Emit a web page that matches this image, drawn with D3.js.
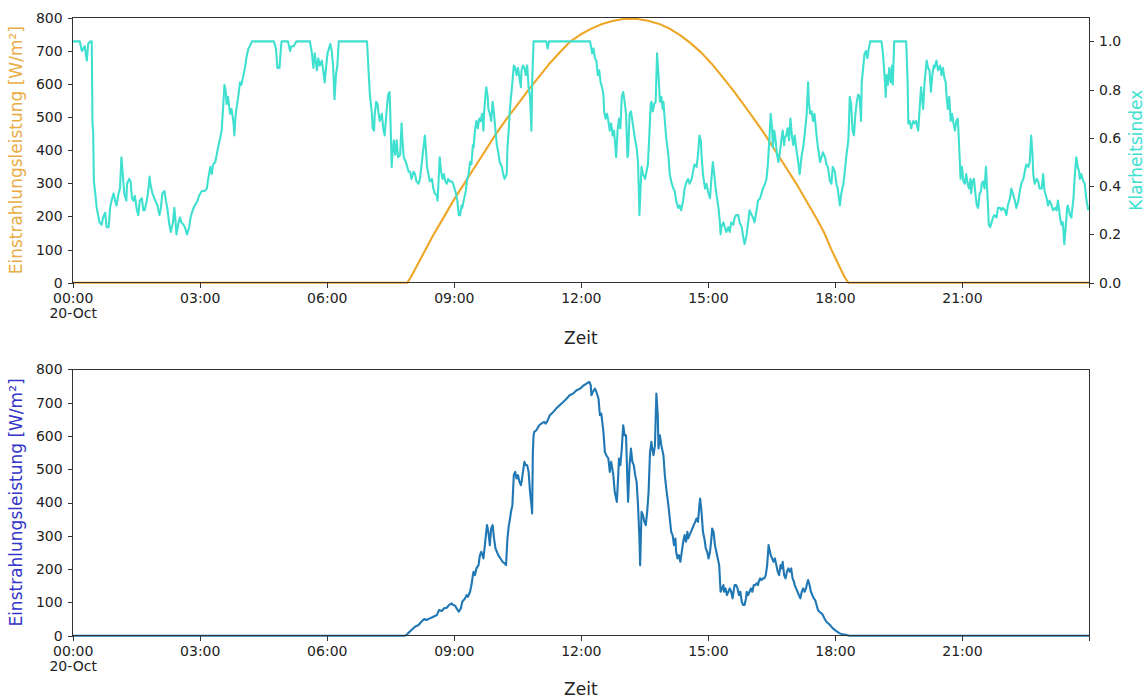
<!DOCTYPE html>
<html>
<head>
<meta charset="utf-8">
<style>
body { margin: 0; background: #fff; }
svg { font-family: "DejaVu Sans", sans-serif; }
.axis path, .axis line { stroke: #333; shape-rendering: crispEdges; }
.axis text { font-family: "DejaVu Sans", sans-serif; font-size: 14px; fill: #222; }
.label { font-family: "DejaVu Sans", sans-serif; font-size: 17px; }
</style>
</head>
<body>
<div id="chart"></div>
<script src="https://d3js.org/d3.v7.min.js"></script>
<script>

// x ticks in hours, date label under the first one
var dayLabel = "20-Oct";
var xTickHours = [0, 3, 6, 9, 12, 15, 18, 21, 24];
var powerTicks = [0, 100, 200, 300, 400, 500, 600, 700, 800];
var clearTicks = [0, 0.2, 0.4, 0.6, 0.8, 1.0];

// [minute of day, clearness index]
var clearIndex = [
[0,1.00],[10,1.00],[13,0.96],[17,0.98],[20,0.92],[22,0.99],[25,1.00],[27,1.00],[28,0.66],[29,0.63],[30,0.42],[32,0.37],[34,0.31],[38,0.25],[41,0.24],[43,0.27],[46,0.29],[48,0.23],[51,0.23],[53,0.31],[55,0.34],[58,0.37],[60,0.34],[62,0.32],[65,0.37],[67,0.39],[69,0.52],[71,0.45],[73,0.37],[76,0.34],[77,0.41],[80,0.43],[82,0.42],[84,0.35],[86,0.34],[88,0.36],[91,0.30],[93,0.28],[95,0.34],[98,0.35],[100,0.30],[102,0.30],[105,0.34],[107,0.38],[109,0.44],[110,0.41],[113,0.37],[117,0.34],[120,0.32],[123,0.28],[125,0.31],[127,0.37],[130,0.38],[132,0.34],[134,0.31],[137,0.24],[139,0.21],[142,0.25],[144,0.31],[145,0.28],[147,0.20],[150,0.25],[152,0.27],[154,0.25],[157,0.24],[159,0.23],[162,0.20],[165,0.23],[167,0.27],[170,0.30],[173,0.32],[177,0.34],[179,0.36],[183,0.38],[187,0.38],[190,0.39],[192,0.43],[195,0.48],[197,0.45],[199,0.49],[202,0.50],[204,0.53],[206,0.56],[209,0.60],[211,0.63],[213,0.72],[215,0.82],[217,0.79],[218,0.74],[220,0.77],[223,0.70],[225,0.72],[228,0.66],[229,0.61],[231,0.70],[232,0.72],[235,0.78],[237,0.83],[239,0.82],[242,0.86],[244,0.89],[246,0.93],[249,0.97],[251,0.98],[254,1.00],[285,1.00],[288,0.97],[290,0.89],[293,0.89],[295,0.97],[296,1.00],[305,1.00],[308,0.96],[310,0.98],[313,0.98],[317,1.00],[336,1.00],[339,0.95],[341,0.89],[343,0.95],[346,0.88],[348,0.93],[350,0.90],[353,0.92],[355,0.88],[357,0.83],
[359,0.89],[361,0.95],[364,0.98],[365,0.99],[367,0.96],[369,0.90],[371,0.76],[373,0.86],[375,0.90],[377,1.00],[417,1.00],[419,0.89],[421,0.78],[424,0.70],[425,0.64],[427,0.63],[428,0.70],[430,0.75],[432,0.74],[433,0.71],[435,0.67],[438,0.70],[440,0.64],[442,0.61],[445,0.72],[447,0.78],[449,0.79],[450,0.70],[452,0.48],[453,0.53],[455,0.59],[457,0.53],[459,0.59],[461,0.52],[464,0.53],[466,0.66],[467,0.60],[469,0.52],[472,0.50],[474,0.48],[476,0.46],[478,0.46],[480,0.43],[483,0.46],[485,0.45],[487,0.42],[490,0.41],[492,0.43],[494,0.48],[497,0.56],[499,0.61],[501,0.53],[502,0.48],[504,0.45],[506,0.42],[509,0.43],[511,0.39],[513,0.37],[516,0.36],[517,0.34],[519,0.46],[520,0.52],[522,0.46],[524,0.43],[526,0.45],[528,0.42],[530,0.41],[532,0.43],[534,0.42],[537,0.42],[539,0.41],[541,0.39],[543,0.37],[545,0.34],[547,0.28],[549,0.28],[551,0.32],[552,0.31],[554,0.34],[557,0.38],[559,0.43],[561,0.45],[563,0.50],[565,0.49],[567,0.57],[568,0.56],[570,0.63],[572,0.67],[574,0.64],[576,0.68],[578,0.67],[580,0.70],[582,0.63],[583,0.71],[585,0.78],[586,0.81],[588,0.77],[589,0.72],[591,0.70],[593,0.67],[595,0.75],[597,0.70],[599,0.63],[601,0.57],[603,0.54],[605,0.50],[608,0.48],[610,0.45],[612,0.43],[615,0.45],[616,0.56],[618,0.64],[619,0.70],[621,0.77],[623,0.83],[625,0.90],[627,0.89],[629,0.86],[631,0.89],[633,0.85],[635,0.81],[636,0.88],[638,0.90],[640,0.89],[642,0.86],[644,0.90],[646,0.81],[648,0.77],[650,0.63],[651,0.83],[653,1.00],[671,1.00],[673,0.97],[675,1.00],
[733,1.00],[735,0.97],[736,0.95],[738,0.97],[740,0.93],[742,0.92],[744,0.86],[746,0.88],[748,0.83],[750,0.81],[752,0.78],[753,0.71],[755,0.68],[757,0.70],[759,0.67],[761,0.63],[763,0.66],[765,0.61],[767,0.63],[769,0.56],[770,0.52],[772,0.63],[774,0.68],[776,0.64],[778,0.77],[780,0.79],[782,0.75],[784,0.70],[786,0.52],[787,0.53],[789,0.70],[791,0.71],[793,0.67],[795,0.63],[797,0.59],[799,0.56],[801,0.50],[802,0.39],[803,0.28],[805,0.42],[806,0.48],[808,0.45],[811,0.43],[813,0.46],[815,0.49],[817,0.61],[819,0.74],[820,0.75],[822,0.71],[824,0.74],[826,0.75],[828,0.95],[830,0.86],[832,0.75],[834,0.77],[836,0.72],[837,0.75],[839,0.67],[841,0.60],[844,0.53],[846,0.45],[848,0.42],[851,0.39],[853,0.38],[855,0.34],[858,0.31],[860,0.32],[862,0.30],[865,0.34],[867,0.39],[870,0.42],[872,0.43],[874,0.41],[877,0.43],[879,0.46],[881,0.49],[884,0.48],[886,0.53],[888,0.61],[890,0.59],[891,0.53],[893,0.45],[896,0.39],[898,0.41],[900,0.38],[903,0.35],[905,0.43],[907,0.50],[909,0.45],[911,0.39],[913,0.35],[915,0.31],[917,0.25],[918,0.20],[919,0.23],[922,0.25],[924,0.23],[926,0.21],[929,0.23],[931,0.21],[933,0.25],[936,0.24],[938,0.27],[940,0.28],[943,0.28],[945,0.25],[948,0.23],[950,0.19],[952,0.16],[955,0.20],[957,0.25],[959,0.30],[962,0.28],[964,0.27],[966,0.25],[969,0.30],[971,0.34],[974,0.35],[976,0.37],[978,0.39],[981,0.41],[983,0.43],[985,0.49],[987,0.59],[989,0.70],[991,0.64],[992,0.56],[994,0.63],[996,0.59],[998,0.53],[1000,0.50],[1002,0.54],[1004,0.59],[1006,0.63],[1008,0.57],[1009,0.60],[1011,0.61],[1013,0.64],[1015,0.59],[1017,0.68],[1019,0.61],[1021,0.57],[1023,0.61],[1025,0.56],[1028,0.50],[1030,0.45],[1033,0.53],[1035,0.56],[1037,0.61],[1040,0.70],[1042,0.83],[1043,0.75],[1045,0.70],[1047,0.71],[1049,0.67],[1051,0.70],[1054,0.61],[1056,0.56],[1059,0.50],[1061,0.52],[1063,0.54],
[1066,0.52],[1068,0.49],[1070,0.48],[1073,0.42],[1075,0.41],[1077,0.48],[1080,0.46],[1082,0.41],[1084,0.39],[1087,0.32],[1089,0.37],[1092,0.41],[1094,0.46],[1096,0.52],[1099,0.59],[1100,0.67],[1101,0.77],[1103,0.74],[1105,0.63],[1107,0.61],[1109,0.70],[1111,0.75],[1113,0.78],[1115,0.77],[1117,0.67],[1118,0.83],[1120,0.89],[1122,0.95],[1124,0.96],[1126,0.93],[1128,0.97],[1130,1.00],[1146,1.00],[1148,0.95],[1151,0.83],[1152,0.77],[1153,0.86],[1155,0.82],[1157,0.89],[1159,0.83],[1161,0.90],[1162,0.82],[1164,1.00],[1181,1.00],[1183,0.83],[1184,0.66],[1186,0.67],[1188,0.64],[1191,0.67],[1193,0.66],[1195,0.67],[1198,0.63],[1200,0.72],[1202,0.81],[1203,0.78],[1205,0.72],[1207,0.83],[1210,0.92],[1212,0.89],[1214,0.88],[1216,0.79],[1218,0.86],[1220,0.90],[1221,0.89],[1224,0.92],[1226,0.88],[1229,0.90],[1231,0.86],[1233,0.89],[1235,0.85],[1237,0.83],[1238,0.78],[1240,0.72],[1242,0.77],[1244,0.67],[1246,0.70],[1248,0.66],[1250,0.63],[1252,0.67],[1254,0.68],[1255,0.63],[1257,0.50],[1258,0.43],[1260,0.48],[1262,0.42],[1264,0.41],[1266,0.45],[1268,0.41],[1270,0.39],[1272,0.43],[1273,0.37],[1275,0.42],[1277,0.43],[1279,0.37],[1281,0.32],[1283,0.31],[1285,0.37],[1287,0.38],[1288,0.41],[1290,0.42],[1292,0.39],[1294,0.48],[1296,0.37],[1297,0.31],[1298,0.24],[1300,0.23],[1302,0.25],[1304,0.27],[1306,0.28],[1309,0.27],[1311,0.31],[1314,0.31],[1316,0.30],[1318,0.31],[1321,0.30],[1323,0.28],[1325,0.32],[1328,0.35],[1330,0.39],[1332,0.37],[1335,0.34],[1337,0.31],[1340,0.34],[1342,0.38],[1344,0.41],[1347,0.43],[1349,0.46],[1351,0.49],[1354,0.48],[1356,0.50],[1358,0.61],[1360,0.53],[1361,0.45],[1363,0.41],[1366,0.43],[1368,0.42],[1370,0.39],[1373,0.39],[1375,0.45],[1377,0.38],[1380,0.35],[1382,0.32],[1384,0.34],[1387,0.32],[1389,0.30],[1392,0.31],[1394,0.30],[1396,0.34],[1399,0.27],[1401,0.24],[1403,0.25],[1405,0.16],[1407,0.23],[1409,0.31],[1410,0.32],[1413,0.28],[1415,0.27],[1418,0.35],[1420,0.45],[1422,0.52],[1424,0.48],[1426,0.46],[1427,0.43],[1429,0.45],[1432,0.42],[1434,0.41],[1436,0.35],[1439,0.30]
];

// [minute of day, clear-sky irradiance W/m2]
var clearSky = [
[0,0],[474,0],[480,20],[490,60],[500,100],[510,140],[525,195],[540,250],[555,300],[570,350],[585,400],[600,450],[615,495],[630,537],[645,580],[660,620],[675,660],[690,695],[705,728],[720,750],[735,767],[750,781],[765,790],[780,796],[790,797],[800,796],[815,791],[830,782],[845,768],[860,748],[875,724],[890,696],[905,662],[920,623],[935,583],[950,540],[965,495],[980,450],[995,400],[1010,350],[1025,300],[1040,245],[1055,190],[1065,150],[1075,100],[1085,55],[1093,20],[1099,0],[1440,0]
];

// [minute of day, measured irradiance W/m2]
var measured = [
[0,0],[470,0],[473,2],[475,7],[480,17],[485,27],[490,32],[494,42],[498,50],[501,47],[506,52],[511,57],[516,62],[519,77],[523,74],[526,82],[530,84],[533,92],[537,97],[539,92],[542,90],[544,82],[547,72],[550,82],[552,102],[556,112],[558,122],[560,117],[563,132],[565,152],[567,182],[568,192],[570,182],[572,202],[575,212],[577,242],[579,252],[582,232],[584,272],[585,292],[587,332],[589,312],[591,272],[593,322],[595,332],[597,292],[599,262],[601,252],[603,242],[606,232],[609,222],[612,217],[614,212],[616,292],[618,332],[619,342],[621,372],[623,392],[625,482],[627,492],[629,472],[631,482],[633,462],[635,452],[636,462],[638,492],[640,522],[642,512],[644,512],[646,492],[648,432],[650,392],[651,367],[652,552],[653,602],[654,612],[657,617],[661,632],[664,637],[668,642],[670,637],[672,642],[674,652],[676,662],[681,672],[685,682],[690,692],[695,702],[700,712],[704,722],[709,727],[714,737],[719,742],[723,750],[728,757],[732,762],[734,752],[735,722],[737,732],[740,742],[742,732],[745,712],[747,662],[749,667],[752,612],[754,552],[756,542],[759,532],[761,492],[763,522],[766,482],[768,432],[771,402],[773,482],[774,532],[776,512],[778,562],
[780,632],[782,602],[784,602],[786,462],[787,402],[789,512],[791,562],[793,522],[795,512],[797,482],[799,462],[801,392],[803,292],[804,212],[805,292],[806,372],[808,362],[810,342],[812,332],[814,372],[816,432],[818,552],[820,582],[821,562],[823,542],[825,572],[827,727],[829,662],[830,562],[832,602],[834,572],[836,552],[837,542],[839,482],[841,442],[844,392],[846,352],[848,312],[850,302],[852,272],[854,292],[855,252],[857,232],[859,242],[861,222],[863,252],[865,282],[867,302],[869,282],[871,312],[872,292],[874,302],[876,312],[878,322],[880,332],[882,342],[884,352],[886,342],[888,392],[889,412],[891,372],[893,312],[895,292],[897,262],[899,252],[901,232],[903,252],[905,292],[906,322],[908,312],[910,272],[912,252],[914,232],[916,212],[918,132],[920,142],[922,152],[923,132],[925,142],[927,122],[929,132],[931,142],[933,132],[935,112],[937,142],[938,152],[940,152],[942,142],[944,122],[946,132],[948,102],[950,92],[952,92],[954,112],[955,132],[957,122],[959,132],[961,142],[963,132],[965,152],[967,152],[969,157],[971,152],[972,162],[974,172],[976,167],[978,172],[980,172],[982,182],[984,212],[986,272],[988,252],[989,242],[991,232],[993,222],[995,232],[997,212],[999,192],[1001,182],[1003,212],[1005,202],[1006,222],[1008,182],[1010,172],[1012,192],[1014,202],[1016,192],[1018,202],[1020,172],[1022,162],[1023,152],[1025,142],[1027,132],[1029,122],[1031,112],[1033,132],[1035,142],[1037,132],[1039,142],[1040,152],[1042,167],[1044,152],[1046,132],[1048,122],[1050,112],[1052,107],[1054,92],[1056,77],[1058,72],[1061,67],[1063,62],[1065,52],[1068,42],[1073,32],[1077,22],[1082,14],[1087,7],[1091,4],[1096,2],[1101,0],[1440,0]
];

var width = 1147, height = 699;
var left = 72.7, right = 1089;
var top1 = 17.7, bottom1 = 282.7;
var top2 = 369.3, bottom2 = 635.7;

var colOrange = "#eea626", colOrangeLabel = "#e9ad45";
var colTurq = "#40e0d0";
var colBlue = "#1f77b4", colBlueLabel = "#3434c8";

var svg = d3.select("#chart").append("svg")
  .attr("width", width).attr("height", height);

svg.append("rect").attr("width", width).attr("height", height).attr("fill", "#fff");

var x = d3.scaleLinear().domain([0, 1440]).range([left, right]);
var yPow1 = d3.scaleLinear().domain([0, 800]).range([bottom1, top1]);
var yClear = d3.scaleLinear().domain([0, 1.098]).range([bottom1, top1]);
var yPow2 = d3.scaleLinear().domain([0, 800]).range([bottom2, top2]);

function hhmm(h) { return h === 24 ? "" : d3.format("02")(h) + ":00"; }

function lineOf(yScale) {
  return d3.line().x(d => x(d[0])).y(d => yScale(d[1]));
}

function drawLine(data, yScale, color) {
  svg.append("path")
    .datum(data)
    .attr("fill", "none")
    .attr("stroke", color)
    .attr("stroke-width", 2.1)
    .attr("stroke-linejoin", "round")
    .attr("d", lineOf(yScale));
}

function xAxisAt(yPos) {
  var g = svg.append("g").attr("class", "axis")
    .attr("transform", `translate(0,${yPos})`)
    .call(d3.axisBottom(x).tickValues(xTickHours.map(h => h * 60))
      .tickFormat(m => hhmm(m / 60)).tickSize(5).tickPadding(5).tickSizeOuter(0));
  g.select(".domain").remove();
  g.selectAll(".tick").filter(m => m === 0).select("text")
    .append("tspan").attr("x", 0).attr("dy", "1.1em").text(dayLabel);
}

function frame(yTop, yBot) {
  svg.append("rect")
    .attr("x", left).attr("y", yTop)
    .attr("width", right - left).attr("height", yBot - yTop)
    .attr("fill", "none").attr("stroke", "#333")
    .attr("shape-rendering", "crispEdges");
}

/* top panel */
drawLine(clearSky, yPow1, colOrange);
drawLine(clearIndex, yClear, colTurq);
frame(top1, bottom1);

svg.append("g").attr("class", "axis")
  .attr("transform", `translate(${left},0)`)
  .call(d3.axisLeft(yPow1).tickValues(powerTicks).tickSize(5).tickPadding(5))
  .select(".domain").remove();

svg.append("g").attr("class", "axis")
  .attr("transform", `translate(${right},0)`)
  .call(d3.axisRight(yClear).tickValues(clearTicks).tickFormat(d3.format(".1f")).tickSize(5).tickPadding(5))
  .select(".domain").remove();

xAxisAt(bottom1);

svg.append("text").attr("class", "label")
  .attr("transform", `translate(17,${(top1 + bottom1) / 2}) rotate(-90)`)
  .attr("text-anchor", "middle").attr("dominant-baseline", "middle")
  .attr("fill", colOrangeLabel).text("Einstrahlungsleistung [W/m²]");

svg.append("text").attr("class", "label")
  .attr("transform", `translate(1137,${(top1 + bottom1) / 2}) rotate(-90)`)
  .attr("text-anchor", "middle").attr("dominant-baseline", "middle")
  .attr("fill", colTurq).text("Klarheitsindex");

svg.append("text").attr("class", "label")
  .attr("x", (left + right) / 2).attr("y", 339)
  .attr("text-anchor", "middle").attr("dominant-baseline", "middle")
  .attr("fill", "#222").text("Zeit");

/* bottom panel */
drawLine(measured, yPow2, colBlue);
frame(top2, bottom2);

svg.append("g").attr("class", "axis")
  .attr("transform", `translate(${left},0)`)
  .call(d3.axisLeft(yPow2).tickValues(powerTicks).tickSize(5).tickPadding(5))
  .select(".domain").remove();

xAxisAt(bottom2);

svg.append("text").attr("class", "label")
  .attr("transform", `translate(17,${(top2 + bottom2) / 2}) rotate(-90)`)
  .attr("text-anchor", "middle").attr("dominant-baseline", "middle")
  .attr("fill", colBlueLabel).text("Einstrahlungsleistung [W/m²]");

svg.append("text").attr("class", "label")
  .attr("x", (left + right) / 2).attr("y", 690)
  .attr("text-anchor", "middle").attr("dominant-baseline", "middle")
  .attr("fill", "#222").text("Zeit");

</script>
</body>
</html>
